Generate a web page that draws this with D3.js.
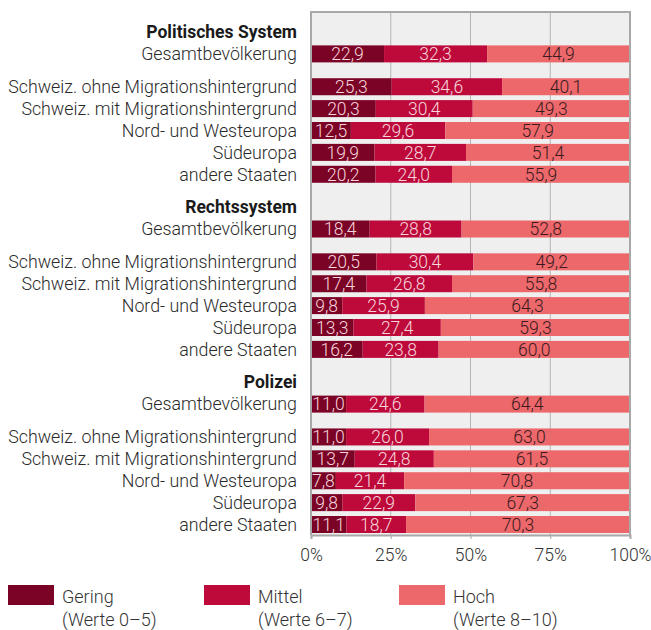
<!DOCTYPE html>
<html>
<head>
<meta charset="utf-8">
<script src="https://cdn.jsdelivr.net/npm/d3@7"></script>
<style>
  body { margin: 0; background: #fff; }
  text { font-family: Roboto, sans-serif; }
</style>
</head>
<body>
<div id="chart"></div>
<script>
// sections and rows
const sections = ['Politisches System', 'Rechtssystem', 'Polizei'];
const groups = [
  'Gesamtbevölkerung',
  'Schweiz. ohne Migrationshintergrund',
  'Schweiz. mit Migrationshintergrund',
  'Nord- und Westeuropa',
  'Südeuropa',
  'andere Staaten'
];
// values per section, in the order of groups
const gering = [
  [22.9, 25.3, 20.3, 12.5, 19.9, 20.2],
  [18.4, 20.5, 17.4, 9.8, 13.3, 16.2],
  [11.0, 11.0, 13.7, 7.8, 9.8, 11.1]
];
const mittel = [
  [32.3, 34.6, 30.4, 29.6, 28.7, 24.0],
  [28.8, 30.4, 26.8, 25.9, 27.4, 23.8],
  [24.6, 26.0, 24.8, 21.4, 22.9, 18.7]
];
const hoch = [
  [44.9, 40.1, 49.3, 57.9, 51.4, 55.9],
  [52.8, 49.2, 55.8, 64.3, 59.3, 60.0],
  [64.4, 63.0, 61.5, 70.8, 67.3, 70.3]
];
const levels = ['Gering', 'Mittel', 'Hoch'];
const levelNotes = ['(Werte 0–5)', '(Werte 6–7)', '(Werte 8–10)'];
const xTicks = [0, 25, 50, 75, 100];

const colors = ['#7b0326', '#bd0a3b', '#ed686b'];
const textColors = ['#f6d5dc', '#f6d5dc', '#3b1a1e'];
const fmt = v => v.toFixed(1).replace('.', ',');

// slot positions of a row inside a section (header at 0)
const rowSlots = [1, 2.5, 3.5, 4.5, 5.5, 6.5];
const sectionSlots = 8;

const width = 651, height = 630;
const plot = { left: 311, right: 630, top: 12, bottom: 535 };

const x = d3.scaleLinear().domain([0, 100]).range([plot.left, plot.right]);
const y = d3.scaleLinear().domain([0, 22.5]).range([32, 524.5]);
const barH = 17;

const svg = d3.select('#chart').append('svg')
  .attr('width', width)
  .attr('height', height);

// plot background
svg.append('rect')
  .attr('x', plot.left).attr('y', plot.top)
  .attr('width', plot.right - plot.left)
  .attr('height', plot.bottom - plot.top)
  .attr('fill', '#efefef');

// grid lines
svg.append('g').selectAll('line')
  .data(xTicks.slice(1, -1))
  .join('line')
  .attr('x1', d => x(d)).attr('x2', d => x(d))
  .attr('y1', plot.top).attr('y2', plot.bottom)
  .attr('stroke', '#b4b4b4').attr('stroke-width', 1);

// build rows
const rows = [];
sections.forEach((s, si) => {
  groups.forEach((g, gi) => {
    rows.push({
      label: g,
      pos: si * sectionSlots + rowSlots[gi],
      vals: [gering[si][gi], mittel[si][gi], hoch[si][gi]]
    });
  });
});

// section headers
svg.append('g').selectAll('text')
  .data(sections)
  .join('text')
  .attr('x', 297)
  .attr('y', (d, i) => y(i * sectionSlots))
  .attr('dy', '0.35em')
  .attr('text-anchor', 'end')
  .attr('font-size', 17.5)
  .attr('font-weight', 700)
  .attr('fill', '#1a1a1a')
  .text(d => d);

// row labels
svg.append('g').selectAll('text')
  .data(rows)
  .join('text')
  .attr('x', 297)
  .attr('y', d => y(d.pos))
  .attr('dy', '0.35em')
  .attr('text-anchor', 'end')
  .attr('font-size', 17.8)
  .attr('font-weight', 300)
  .attr('fill', '#2a2a2a')
  .text(d => d.label);

// bars
const barG = svg.append('g');
rows.forEach(r => {
  let start = 0;
  r.vals.forEach((v, k) => {
    const end = Math.min(start + v, 100);
    const x0 = x(start), x1 = k === 2 ? x(100) : x(end);
    barG.append('rect')
      .attr('x', x0)
      .attr('y', y(r.pos) - barH / 2)
      .attr('width', x1 - x0)
      .attr('height', barH)
      .attr('fill', colors[k]);
    barG.append('text')
      .attr('x', (x0 + x1) / 2)
      .attr('y', y(r.pos))
      .attr('dy', '0.36em')
      .attr('text-anchor', 'middle')
      .attr('font-size', 17.5)
      .attr('font-weight', 300)
      .attr('fill', textColors[k])
      .text(fmt(v));
    start = end;
  });
});

// plot border (left, top, right)
svg.append('path')
  .attr('d', `M${plot.left},${plot.bottom}V${plot.top}H${plot.right}V${plot.bottom}`)
  .attr('fill', 'none')
  .attr('stroke', '#a8a8a8')
  .attr('stroke-width', 2);

// x axis
const xAxis = svg.append('g')
  .attr('transform', `translate(0, ${plot.bottom})`)
  .call(d3.axisBottom(x).tickValues(xTicks).tickFormat(d => d + '%').tickSize(4).tickPadding(10));
xAxis.select('.domain').attr('stroke', '#a8a8a8').attr('stroke-width', 2);
xAxis.selectAll('.tick line').attr('stroke', '#a8a8a8');
xAxis.selectAll('.tick text')
  .attr('font-family', 'Roboto, sans-serif')
  .attr('font-size', 17.5)
  .attr('font-weight', 300)
  .attr('fill', '#333');

// legend
const legendX = [8, 204, 399];
const legend = svg.append('g').selectAll('g')
  .data(levels)
  .join('g')
  .attr('transform', (d, i) => `translate(${legendX[i]}, 585)`);
legend.append('rect')
  .attr('width', 46).attr('height', 20)
  .attr('fill', (d, i) => colors[i]);
legend.append('text')
  .attr('x', 54).attr('y', 18)
  .attr('font-size', 18).attr('font-weight', 300).attr('fill', '#333')
  .text(d => d);
legend.append('text')
  .attr('x', 54).attr('y', 41)
  .attr('font-size', 18).attr('font-weight', 300).attr('fill', '#333')
  .text((d, i) => levelNotes[i]);
</script>
</body>
</html>
